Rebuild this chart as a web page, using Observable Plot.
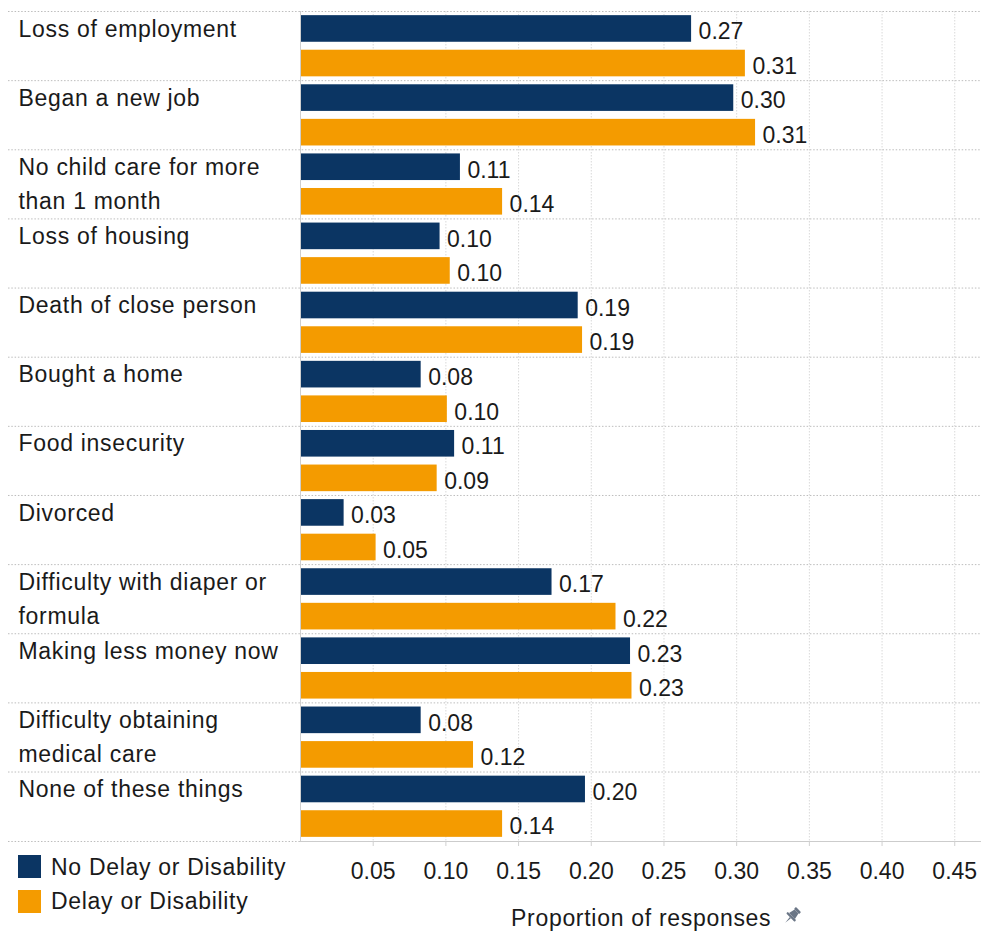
<!DOCTYPE html>
<html><head><meta charset="utf-8">
<script src="https://cdn.jsdelivr.net/npm/d3@7"></script>
<script src="https://cdn.jsdelivr.net/npm/@observablehq/plot@0.6"></script>
<style>
body{margin:0;background:#fff;font-family:"Liberation Sans",Arial,Helvetica,sans-serif;}
#wrap{position:relative;width:981px;height:933px;overflow:hidden;}
.leg{position:absolute;font-size:23px;line-height:1;color:#1a1a1a;letter-spacing:0.7px;white-space:nowrap}
.sw{position:absolute;width:23px;height:23px}
</style></head><body><div id="wrap"></div>
<script>
const categories = [
  "Loss of employment",
  "Began a new job",
  "No child care for more\nthan 1 month",
  "Loss of housing",
  "Death of close person",
  "Bought a home",
  "Food insecurity",
  "Divorced",
  "Difficulty with diaper or\nformula",
  "Making less money now",
  "Difficulty obtaining\nmedical care",
  "None of these things"
];
const seriesNames = ["No Delay or Disability", "Delay or Disability"];
const noDelayValues = [0.269, 0.298, 0.110, 0.096, 0.191, 0.083, 0.106, 0.030, 0.173, 0.227, 0.083, 0.196];
const delayValues   = [0.306, 0.313, 0.139, 0.103, 0.194, 0.101, 0.094, 0.052, 0.217, 0.228, 0.119, 0.139];
const xTicks = [0.05, 0.10, 0.15, 0.20, 0.25, 0.30, 0.35, 0.40, 0.45];
const seriesColors = ["#0b3563", "#f49b00"];
const axisTitle = "Proportion of responses";

const rows = [];
categories.forEach((c, i) => {
  rows.push({cat: c, series: seriesNames[0], value: noDelayValues[i], key: i + "|0"});
  rows.push({cat: c, series: seriesNames[1], value: delayValues[i], key: i + "|1"});
});
const keys = rows.map(d => d.key);
const groups = categories.map((c, i) => ({label: c, key: i + "|0"}));
const lastKey = keys[keys.length - 1];
const fmt = d3.format(".2f");

const sepStyle = {stroke: "#bdbdbd", strokeDasharray: "1.5,1.8", insetLeft: -292};

const chart = Plot.plot({
  width: 981,
  height: 933,
  marginTop: 11,
  marginBottom: 92,
  marginLeft: 300,
  marginRight: 0,
  style: {fontFamily: "'Liberation Sans', Arial, sans-serif", fontSize: "23px", color: "#1a1a1a", background: "#fff", overflow: "visible"},
  x: {domain: [0, 0.4684]},
  y: {domain: keys, paddingInner: 0.23, paddingOuter: 0.12, round: false, axis: null},
  color: {domain: seriesNames, range: seriesColors},
  marks: [
    Plot.ruleX(xTicks, {stroke: "#d9d9d9", strokeDasharray: "1.5,1.5"}),
    Plot.ruleY(groups, {y: "key", dy: -17.45, ...sepStyle}),
    Plot.ruleY([lastKey], {y: d => d, dy: 17.45, ...sepStyle}),
    Plot.barX(rows, {x: "value", y: "key", fill: "series"}),
    Plot.text(rows, {x: "value", y: "key", text: d => fmt(d.value), textAnchor: "start", dx: 7, dy: 3, fontSize: 23, fill: "#1a1a1a"}),
    Plot.text(groups, {y: "key", text: "label", frameAnchor: "left", dx: -282, textAnchor: "start", lineAnchor: "top", lineHeight: 1.503, dy: -16.95, fontSize: 23, fill: "#1a1a1a"}),
    Plot.ruleX([0], {stroke: "#cfcfcf"}),
    Plot.frame({anchor: "bottom", stroke: "#cccccc"}),
    Plot.axisX({ticks: xTicks, tickFormat: fmt, tickSize: 5, tickPadding: 16, stroke: "#d0d0d0", fill: "#1a1a1a", fontSize: 23, label: null})
  ]
});

// category labels: slightly wider tracking like the reference font
const textGroups = chart.querySelectorAll('g[aria-label="text"]');
if (textGroups.length > 1) textGroups[1].style.letterSpacing = "0.7px";

const wrap = document.getElementById("wrap");
wrap.appendChild(chart);

// legend
const legendTops = [855, 889.5];
seriesNames.forEach((s, i) => {
  const sw = document.createElement("div");
  sw.className = "sw";
  sw.style.left = "18px";
  sw.style.top = legendTops[i] + "px";
  sw.style.background = seriesColors[i];
  wrap.appendChild(sw);
  const t = document.createElement("div");
  t.className = "leg";
  t.style.left = "51px";
  t.style.top = (legendTops[i] + 0.5) + "px";
  t.textContent = s;
  wrap.appendChild(t);
});

// axis title with pin icon
const at = document.createElement("div");
at.className = "leg";
at.style.left = "511px";
at.style.top = "906.5px";
at.textContent = axisTitle;
wrap.appendChild(at);
const pin = document.createElementNS("http://www.w3.org/2000/svg", "svg");
pin.setAttribute("width", "22");
pin.setAttribute("height", "22");
pin.setAttribute("viewBox", "0 0 24 24");
pin.style.position = "absolute";
pin.style.left = "781px";
pin.style.top = "905px";
pin.innerHTML = '<g transform="rotate(45 12 12)" fill="#6b7686"><rect x="8" y="2" width="8" height="3" rx="1"/><path d="M9 5 h6 l1.5 7 h-9 z"/><rect x="5.5" y="12" width="13" height="2.5" rx="1"/><path d="M11.2 14.5 h1.6 l-0.8 8 z"/></g>';
wrap.appendChild(pin);
</script>
</body></html>
